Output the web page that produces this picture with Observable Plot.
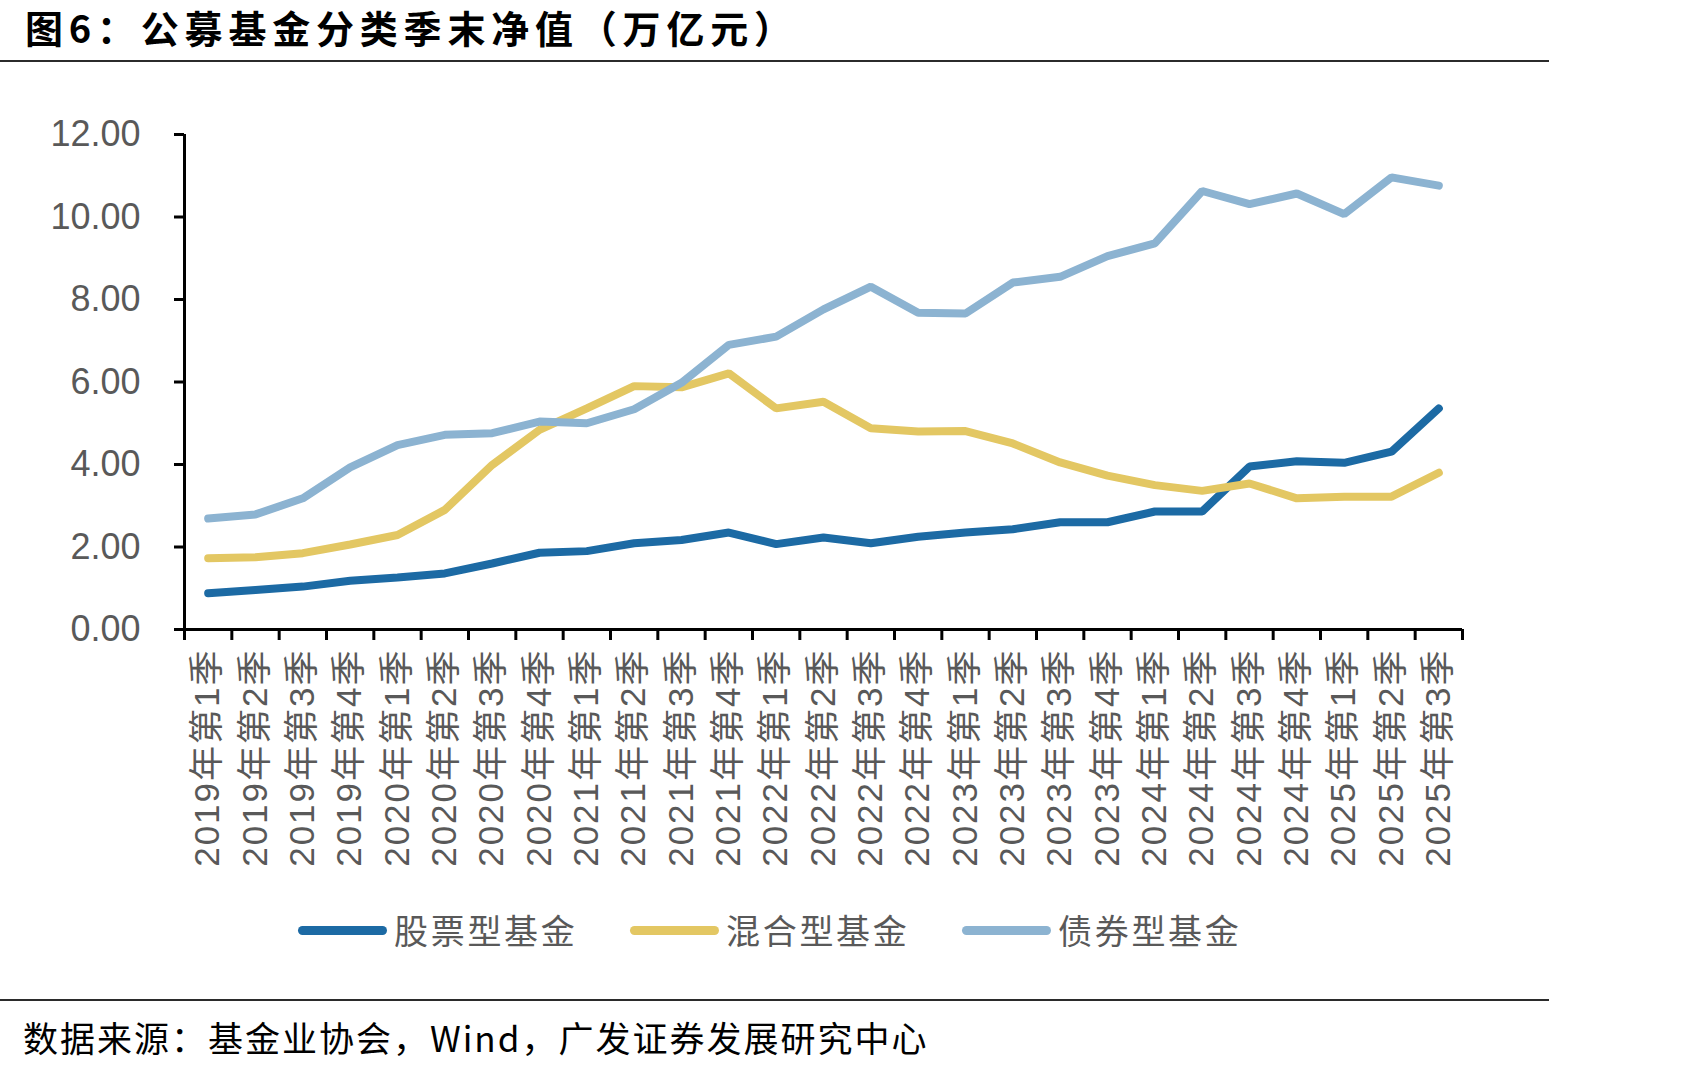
<!DOCTYPE html>
<html>
<head>
<meta charset="utf-8">
<script src="https://cdn.jsdelivr.net/npm/d3@7"></script>
<script src="https://cdn.jsdelivr.net/npm/@observablehq/plot@0.6"></script>
<style>
  html, body { margin: 0; padding: 0; background: #fff; }
  #page { position: relative; width: 1690px; height: 1068px; overflow: hidden; background: #fff; }
  #title { position: absolute; left: 25px; top: 3px; font-family: "Noto Sans CJK SC", sans-serif; font-weight: 700; font-size: 38px; line-height: 48px; color: #000; letter-spacing: 5.8px; white-space: nowrap; }
  .rule { position: absolute; left: 0; width: 1549px; height: 2px; background: #2b2b2b; }
  #chart { position: absolute; left: 0; top: 62px; }
  #chart g[aria-label="x-axis tick label"] text { letter-spacing: 2px; }
  #legend { position: absolute; left: 0; top: 905px; width: 1690px; height: 50px; }
  .item { position: absolute; top: 0; height: 50px; display: flex; align-items: center; }
  .swatch { width: 89px; height: 9px; border-radius: 5px; margin-right: 7px; }
  .label { font-family: "Noto Sans CJK SC", sans-serif; font-size: 34px; color: #595959; letter-spacing: 2.7px; line-height: 50px; white-space: nowrap; }
  #source { position: absolute; left: 23px; top: 1013px; font-family: "Noto Sans CJK SC", sans-serif; font-size: 35px; line-height: 48px; color: #000; white-space: nowrap; letter-spacing: 2px; }
</style>
</head>
<body>
<div id="page">
  <div id="title"></div>
  <div class="rule" style="top:60px"></div>
  <div id="chart"></div>
  <div id="legend"></div>
  <div class="rule" style="top:999px"></div>
  <div id="source"></div>
</div>
<script>
const titleText = "图6：公募基金分类季末净值（万亿元）";
const sourceText = "数据来源：基金业协会，Wind，广发证券发展研究中心";

const quarters = [
  "2019年第1季","2019年第2季","2019年第3季","2019年第4季",
  "2020年第1季","2020年第2季","2020年第3季","2020年第4季",
  "2021年第1季","2021年第2季","2021年第3季","2021年第4季",
  "2022年第1季","2022年第2季","2022年第3季","2022年第4季",
  "2023年第1季","2023年第2季","2023年第3季","2023年第4季",
  "2024年第1季","2024年第2季","2024年第3季","2024年第4季",
  "2025年第1季","2025年第2季","2025年第3季"
];

const seriesNames = ["股票型基金", "混合型基金", "债券型基金"];
const seriesColors = ["#1c6aa4", "#e3c763", "#8cb3d1"];

const stockFund = [0.88,0.96,1.04,1.18,1.26,1.36,1.60,1.86,1.90,2.09,2.17,2.35,2.07,2.23,2.09,2.25,2.35,2.43,2.60,2.60,2.86,2.86,3.95,4.08,4.04,4.31,5.36];
const mixedFund = [1.73,1.75,1.85,2.06,2.29,2.90,3.99,4.84,5.36,5.90,5.87,6.21,5.36,5.52,4.88,4.80,4.81,4.51,4.05,3.73,3.50,3.36,3.54,3.18,3.22,3.22,3.80];
const bondFund  = [2.69,2.79,3.18,3.93,4.47,4.72,4.76,5.04,5.00,5.34,5.98,6.90,7.10,7.76,8.31,7.68,7.66,8.41,8.55,9.05,9.36,10.63,10.31,10.57,10.07,10.96,10.76];

const yTicks = [0, 2, 4, 6, 8, 10, 12];

document.getElementById("title").textContent = titleText;
document.getElementById("source").textContent = sourceText;

const seriesValues = [stockFund, mixedFund, bondFund];
const data = [];
seriesNames.forEach((name, k) => {
  seriesValues[k].forEach((v, i) => data.push({q: quarters[i], v, s: name}));
});

const W = 1690, H = 828;
const mL = 184, mR = 228, mT = 72, mB = 261;
const step = (W - mL - mR) / quarters.length;

const chart = Plot.plot({
  width: W,
  height: H,
  marginLeft: mL,
  marginRight: mR,
  marginTop: mT,
  marginBottom: mB,
  style: {fontFamily: "'Liberation Sans', Arial, 'Noto Sans CJK SC', sans-serif", background: "transparent", overflow: "visible"},
  x: {type: "point", domain: quarters, padding: 0.5, align: 0.5, round: false, label: null},
  y: {domain: [0, 12], label: null},
  color: {domain: seriesNames, range: seriesColors},
  marks: [
    Plot.axisY({ticks: yTicks, tickFormat: d3.format(".2f"), tickSize: 10, tickPadding: 34, fontSize: 36, fill: "#595959", stroke: "#000", strokeWidth: 3, label: null}),
    Plot.axisX({ticks: quarters, tickSize: 11, tickFormat: () => "", dx: -step / 2, stroke: "#000", strokeWidth: 3, label: null}),
    Plot.axisX({ticks: [quarters[quarters.length - 1]], tickSize: 11, tickFormat: () => "", dx: step / 2, stroke: "#000", strokeWidth: 3, label: null}),
    Plot.axisX({ticks: quarters, tickSize: 0, tickPadding: 19, tickRotate: -90, fontSize: 35, fill: "#595959", label: null}),
    Plot.ruleX([quarters[0]], {dx: -step / 2, stroke: "#000", strokeWidth: 3}),
    Plot.ruleY([0], {stroke: "#000", strokeWidth: 3}),
    Plot.line(data, {x: "q", y: "v", z: "s", stroke: "s", strokeWidth: 8, strokeLinecap: "round", strokeLinejoin: "miter"})
  ]
});
document.getElementById("chart").appendChild(chart);

const legend = document.getElementById("legend");
const legendLeft = [298, 630, 962];
seriesNames.forEach((name, k) => {
  const item = document.createElement("div");
  item.className = "item";
  item.style.left = legendLeft[k] + "px";
  const sw = document.createElement("div");
  sw.className = "swatch";
  sw.style.background = seriesColors[k];
  const lb = document.createElement("span");
  lb.className = "label";
  lb.textContent = name;
  item.appendChild(sw);
  item.appendChild(lb);
  legend.appendChild(item);
});
</script>
</body>
</html>
